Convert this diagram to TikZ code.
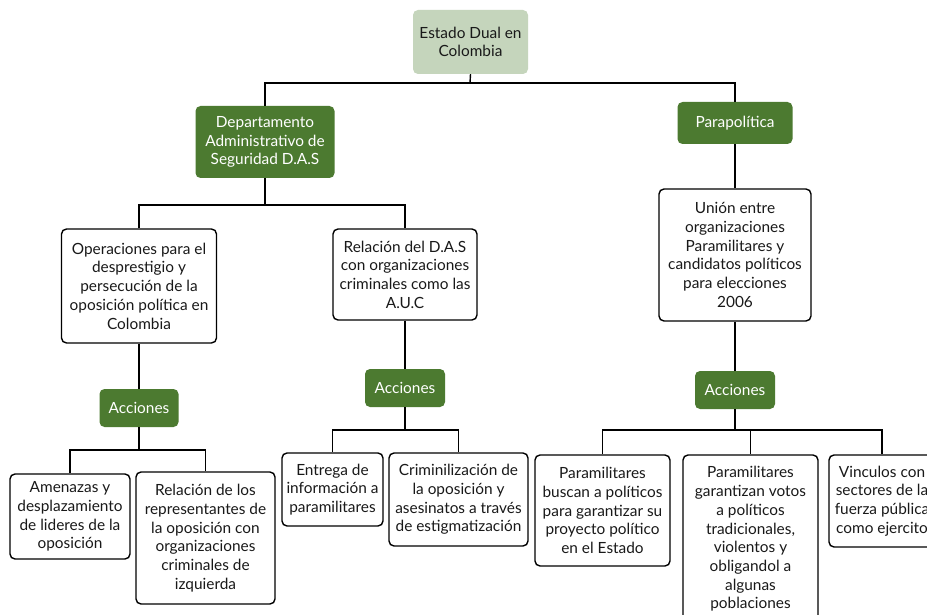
\documentclass[tikz,border=0pt]{standalone}
\usepackage{fontspec}
\setmainfont{Lato}
\definecolor{darkgreen}{RGB}{76,122,48}
\definecolor{lightgreen}{RGB}{197,213,188}
\definecolor{txt}{RGB}{25,25,25}
\begin{document}
\begin{tikzpicture}[x=1pt,y=-1pt,
  base/.style={rectangle, rounded corners=5pt, inner sep=0pt, align=center,
    font=\fontsize{15.4}{18.7}\selectfont},
  rootbox/.style={base, fill=lightgreen, text=txt},
  greenbox/.style={base, fill=darkgreen, text=white},
  whitebox/.style={base, draw=black, line width=1.4pt, fill=white, text=txt},
  conn/.style={draw=black, line width=1.4pt}]
\useasboundingbox (0,0) rectangle (927,615);
\clip (0,0) rectangle (927,615);
\fill[white] (0,0) rectangle (927,615);

% bus coordinates
\coordinate (c0) at (470,83);
\coordinate (c1) at (265,205);
\coordinate (c2) at (139,450);
\coordinate (c3) at (405,430);
\coordinate (c4) at (735,430);

\node[rootbox, minimum width=115pt, minimum height=64pt] (root) at (470.5,42) {Estado Dual en\\Colombia};
\node[greenbox, minimum width=139pt, minimum height=72pt] (das) at (265,142) {Departamento\\Administrativo de\\Seguridad D.A.S};
\node[greenbox, minimum width=115pt, minimum height=42pt] (para) at (735,123) {Parapolítica};
\node[whitebox, minimum width=155pt, minimum height=114pt] (ops) at (139,286) {Operaciones para el\\desprestigio y\\persecución de la\\oposición política en\\Colombia};
\node[whitebox, minimum width=144pt, minimum height=91pt] (rel) at (405,274.5) {Relación del D.A.S\\con organizaciones\\criminales como las\\A.U.C};
\node[whitebox, minimum width=152pt, minimum height=132pt] (union) at (735,255) {Unión entre\\organizaciones\\Paramilitares y\\candidatos políticos\\para elecciones\\2006};
\node[greenbox, minimum width=79pt, minimum height=38pt] (acc1) at (139,408) {Acciones};
\node[greenbox, minimum width=80pt, minimum height=38pt] (acc2) at (405,388) {Acciones};
\node[greenbox, minimum width=80pt, minimum height=38pt] (acc3) at (735,390) {Acciones};
\node[whitebox, minimum width=120pt, minimum height=85pt] (amen) at (70,516.5) {Amenazas y\\desplazamiento\\de lideres de la\\oposición};
\node[whitebox, minimum width=139pt, minimum height=132pt] (relrep) at (205.5,538) {Relación de los\\representantes de\\la oposición con\\organizaciones\\criminales de\\izquierda};
\node[whitebox, minimum width=101pt, minimum height=73pt] (entrega) at (332.5,489.5) {Entrega de\\información a\\paramilitares};
\node[whitebox, minimum width=139pt, minimum height=93pt] (crim) at (458.5,499.5) {Criminilización de\\la oposición y\\asesinatos a través\\de estigmatización};
\node[whitebox, minimum width=135pt, minimum height=111pt] (pb) at (602.5,510.5) {Paramilitares\\buscan a políticos\\para garantizar su\\proyecto político\\en el Estado};
\node[whitebox, minimum width=135pt, minimum height=168pt] (pg) at (750.5,539) {Paramilitares\\garantizan votos\\a políticos\\tradicionales,\\violentos y\\obligandol a\\algunas\\poblaciones};
\node[whitebox, minimum width=106pt, minimum height=92pt] (vin) at (882,501) {Vinculos con\\sectores de la\\fuerza pública\\como ejercito};

\draw[conn] (root.south) -- (c0);
\draw[conn] (das.north) |- (c0) -| (para.north);
\draw[conn] (das.south) -- (c1);
\draw[conn] (ops.north) |- (c1) -| (rel.north);
\draw[conn] (ops.south) -- (acc1.north);
\draw[conn] (rel.south) -- (acc2.north);
\draw[conn] (para.south) -- (union.north);
\draw[conn] (union.south) -- (acc3.north);
\draw[conn] (acc1.south) -- (c2);
\draw[conn] (amen.north) |- (c2) -| (relrep.north);
\draw[conn] (acc2.south) -- (c3);
\draw[conn] (entrega.north) |- (c3) -| (crim.north);
\draw[conn] (acc3.south) -- (c4);
\draw[conn] (pb.north) |- (c4) -| (vin.north);
\draw[conn] (c4 -| pg.north) -- (pg.north);
\end{tikzpicture}
\end{document}
